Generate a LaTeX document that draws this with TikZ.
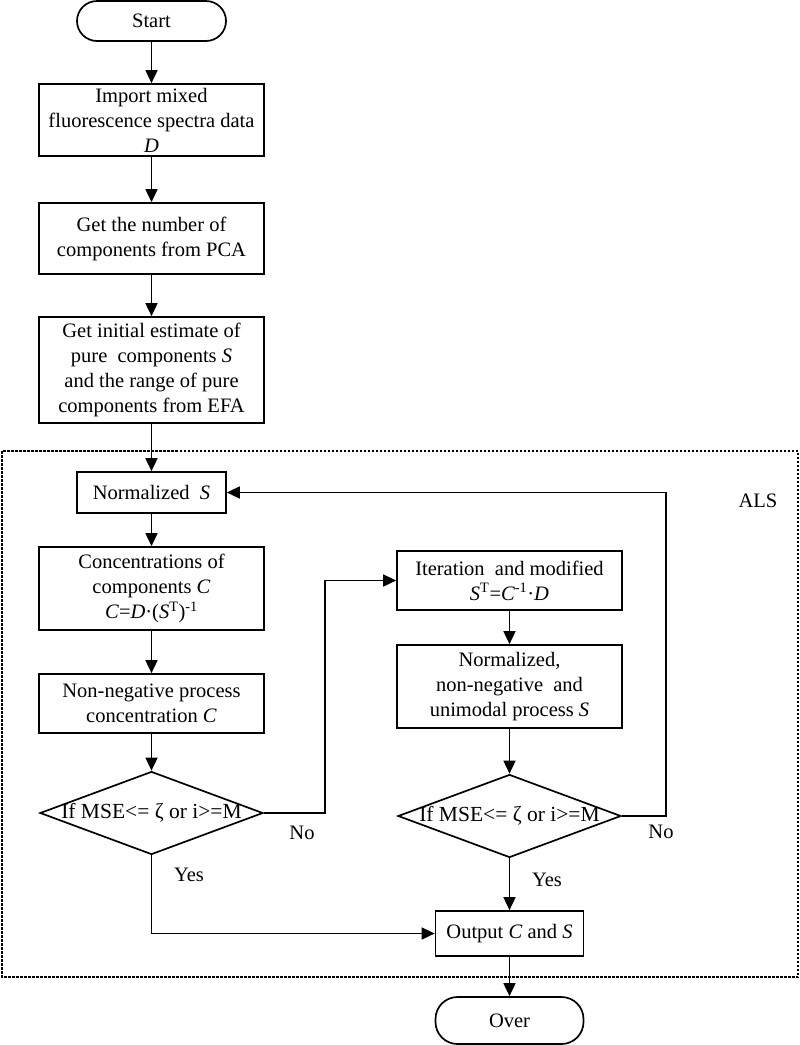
\documentclass[tikz,border=0pt]{standalone}
\usepackage{fontspec}
\setmainfont{Liberation Serif}
\usetikzlibrary{shapes.geometric,arrows.meta}
\begin{document}
\begin{tikzpicture}[x=1pt,y=-1pt,
  every node/.style={font=\fontsize{20.5}{25}\selectfont},
  proc/.style={draw,line width=1.7pt,rectangle,align=center,inner sep=0pt},
  term/.style={draw,line width=1.7pt,rectangle,rounded corners=20pt,inner sep=0pt},
  dec/.style={draw,line width=1.7pt,diamond,inner sep=0pt,minimum width=223pt,minimum height=83pt},
  dect/.style={font=\fontsize{21.5}{25}\selectfont},
  arr/.style={line width=1.7pt,-{Triangle[length=13pt,width=12pt]}},
  ln/.style={line width=1.7pt}]
\useasboundingbox (0,0) rectangle (800,1045);
\draw[line width=1.6pt,dash pattern=on 2.5pt off 1.5pt] (2,451) rectangle (798,977);
\node[term,minimum width=149pt,minimum height=40pt] (start) at (151.5,21) {Start};
\node[proc,minimum width=225pt,minimum height=72pt] (b1) at (151.5,120) {Import mixed\\fluorescence spectra data\\\textit{D}};
\node[proc,minimum width=225pt,minimum height=71pt] (b2) at (151.5,238.5) {Get the number of\\components from PCA};
\node[proc,minimum width=225pt,minimum height=106pt] (b3) at (151.5,370) {Get initial estimate of\\pure\ \ components \textit{S}\\and the range of pure\\components from EFA};
\node[proc,minimum width=149pt,minimum height=41pt] (ns) at (151.5,492.5) {Normalized\ \ \textit{S}};
\node[proc,minimum width=225pt,minimum height=83pt] (conc) at (151.5,588.5) {Concentrations of\\components \textit{C}\\\textit{C}=\textit{D}·(\textit{S}\textsuperscript{T})\textsuperscript{-1}};
\node[proc,minimum width=225pt,minimum height=59pt] (nonneg) at (151.5,703.5) {Non-negative process\\concentration \textit{C}};
\node[dec] (d1) at (151.5,813) {};
\node[dect] (d1t) at (d1) {If MSE<= ζ or i>=M};
\node[proc,minimum width=225pt,minimum height=59pt] (iter) at (509.5,580.5) {Iteration\ \ and modified\\\textit{S}\textsuperscript{T}=\textit{C}\textsuperscript{-1}·\textit{D}};
\node[proc,minimum width=225pt,minimum height=83pt] (norm2) at (509.5,686.5) {Normalized,\\non-negative\ \ and\\unimodal process \textit{S}};
\node[dec] (d2) at (509.5,816) {};
\node[dect] (d2t) at (d2) {If MSE<= ζ or i>=M};
\node[proc,minimum width=148pt,minimum height=45pt] (out) at (509.5,933.5) {Output \textit{C} and \textit{S}};
\node[term,minimum width=148pt,minimum height=47pt,rounded corners=22pt] (over) at (509.5,1020.5) {Over};
\node (als) at (758,501) {ALS};
\node (no1) at (302,833) {No};
\node (no2) at (661,832) {No};
\node (yes1) at (189,875) {Yes};
\node (yes2) at (547,880) {Yes};
\coordinate (k1) at (325,813);
\coordinate (k2) at (666,816);
\draw[arr] (start) -- (b1);
\draw[arr] (b1) -- (b2);
\draw[arr] (b2) -- (b3);
\draw[arr] (b3) -- (ns);
\draw[arr] (ns) -- (conc);
\draw[arr] (conc) -- (nonneg);
\draw[arr] (nonneg) -- (d1);
\draw[arr] (d1.east) -- (k1) |- (iter.west);
\draw[arr] (d1.south) |- (out.west);
\draw[arr] (iter) -- (norm2);
\draw[arr] (norm2) -- (d2);
\draw[arr] (d2) -- (out);
\draw[arr] (d2.east) -- (k2) |- (ns.east);
\draw[arr] (out) -- (over);
\end{tikzpicture}
\end{document}
